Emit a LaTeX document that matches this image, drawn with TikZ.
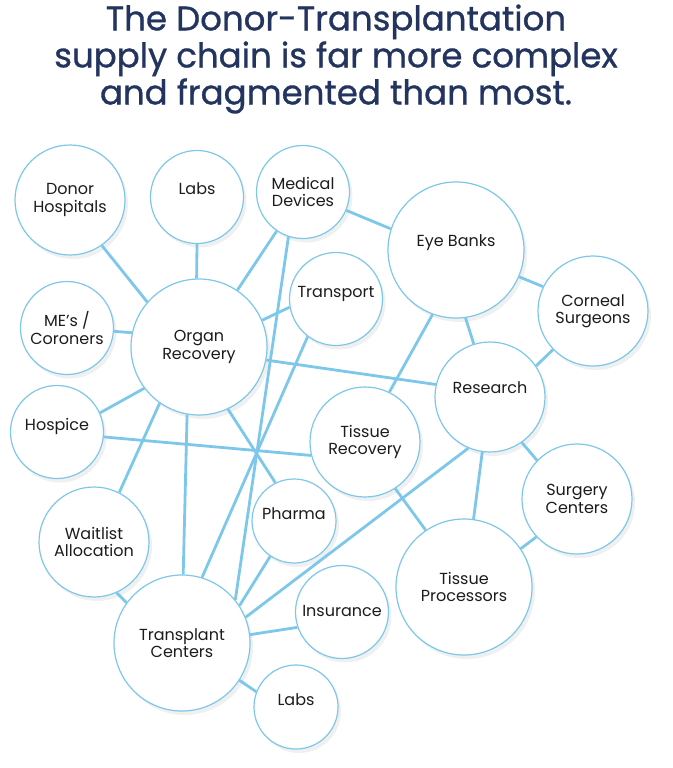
\documentclass[tikz,border=0pt]{standalone}
\usepackage{fontspec}
\setmainfont{Poppins}
\newfontfamily\titlefont{Poppins}[FakeBold=0.9]
\usepackage{tikz}
\usetikzlibrary{shadows}
\definecolor{linkblue}{RGB}{125,199,234}
\definecolor{titlenavy}{RGB}{35,52,94}
\definecolor{labelgray}{RGB}{28,28,28}
\tikzset{
bubble/.style={circle, draw=linkblue, line width=1.2pt, fill=white, inner sep=0pt, align=center, text=labelgray, font=\fontsize{16}{17.5}\selectfont, drop shadow={opacity=0.12, shadow xshift=3pt, shadow yshift=-4pt}},
big/.style={bubble, minimum size=136pt},
mid/.style={bubble, minimum size=110pt},
small/.style={bubble, minimum size=93pt},
tiny/.style={bubble, minimum size=84pt},
link/.style={draw=linkblue, line width=2.8pt}
}

\begin{document}
\begin{tikzpicture}[x=1pt, y=-1pt]
\useasboundingbox (0,0) rectangle (672,768);
\node[text=titlenavy, align=center, font=\titlefont\fontsize{34}{37}\selectfont] (title) at (336,59) {The Donor-Transplantation\\supply chain is far more complex\\and fragmented than most.};
\node[mid] (dh) at (70,200) {Donor\\Hospitals};
\node[small] (labsa) at (197,197) {\raisebox{16pt}{Labs}};
\node[small] (md) at (303,192) {Medical\\Devices};
\node[small] (me) at (67,328) {ME’s /\\Coroners};
\node[big] (or) at (199,347) {Organ\\Recovery};
\node[small] (hosp) at (57,432) {\raisebox{16pt}{Hospice}};
\node[small] (tr) at (336,299) {\raisebox{15pt}{Transport}};
\node[big] (eb) at (456,250) {\raisebox{18pt}{Eye Banks}};
\node[mid] (cs) at (593,311) {Corneal\\Surgeons};
\node[mid] (res) at (490,397) {\raisebox{18pt}{Research}};
\node[mid] (trec) at (365,442) {Tissue\\Recovery};
\node[mid] (sc) at (577,499) {Surgery\\Centers};
\node[big] (tp) at (464,587) {Tissue\\Processors};
\node[tiny] (ph) at (294,521) {\raisebox{14pt}{Pharma}};
\node[mid] (wl) at (94,542) {Waitlist\\Allocation};
\node[big] (tc) at (182,643) {Transplant\\Centers};
\node[small] (ins) at (342,612) {\raisebox{3pt}{Insurance}};
\node[tiny] (labsb) at (296,707) {\raisebox{14pt}{Labs}};
\draw[link] (dh.-55) -- (or.139);
\draw[link] (labsa.-90) -- (or.92);
\draw[link] (md.-124) -- (or.56);
\draw[link] (me.-4) -- (or.168);
\draw[link] (hosp.24) -- (or.-143);
\draw[link] (tr.-170) -- (or.23);
\draw[link] (md.-23) -- (eb.162);
\draw[link] (md.-108) -- (tc.39);
\draw[link] (tr.-127) -- (tc.73);
\draw[link] (or.-11) -- (res.167);
\draw[link] (hosp.-6) -- (trec.-166);
\draw[link] (or.-65) -- (ph.116);
\draw[link] (or.-100) -- (tc.89);
\draw[link] (or.-125) -- (wl.63);
\draw[link] (wl.-66) -- (tc.144);
\draw[link] (ph.-124) -- (tc.33);
\draw[link] (res.-113) -- (tc.22);
\draw[link] (ins.-161) -- (tc.7);
\draw[link] (labsb.159) -- (tc.-33);
\draw[link] (eb.-23) -- (cs.154);
\draw[link] (eb.-82) -- (res.107);
\draw[link] (eb.-110) -- (trec.64);
\draw[link] (cs.-136) -- (res.34);
\draw[link] (res.-55) -- (sc.136);
\draw[link] (res.-98) -- (tp.82);
\draw[link] (trec.-57) -- (tp.124);
\draw[link] (sc.-137) -- (tp.34);
\end{tikzpicture}
\end{document}
